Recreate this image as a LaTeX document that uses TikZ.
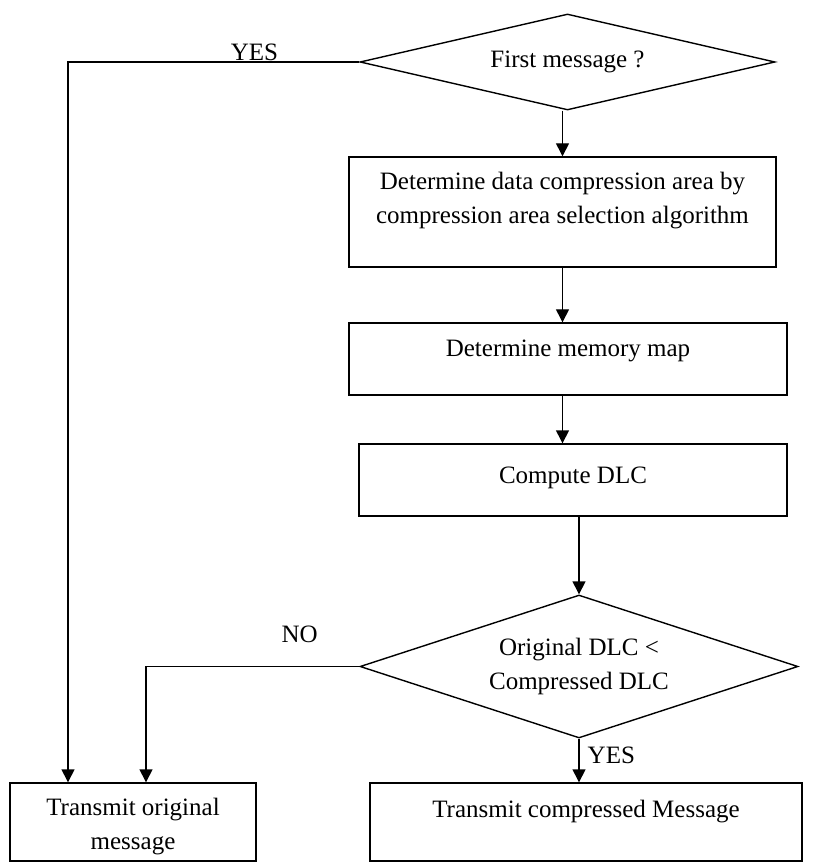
\documentclass[tikz,border=0pt]{standalone}
\usepackage{fontspec}
\setmainfont{Liberation Serif}
\usetikzlibrary{shapes.geometric,arrows.meta}

\begin{document}
\begin{tikzpicture}[x=0.5pt,y=-0.5pt,line width=0.7pt,
  >={Triangle[length=6.5pt,width=6.5pt]},
  font=\fontsize{12.5pt}{17pt}\selectfont,
  test node/.style={diamond,draw,aspect=4.3,inner sep=0pt,align=center},
  step node/.style={rectangle,draw,inner sep=0pt,align=center},
  answer/.style={inner sep=0pt}]
  \useasboundingbox (0,0) rectangle (812,865);
  \node[test node,minimum width=207.5pt,minimum height=48pt] (1) at (567.5,62) {First message ?};
  \node[step node,minimum width=213.5pt,text height=33.5pt,text depth=21.5pt] (2) at (562.5,212)
    {Determine data compression area by\\compression area selection algorithm};
  \node[step node,minimum width=219pt,text height=17pt,text depth=19pt] (3) at (568,359) {Determine memory map};
  \node[step node,minimum width=214pt,text height=19.5pt,text depth=16.5pt] (4) at (573,480) {Compute DLC};
  \node[test node,aspect=3.06,minimum width=219pt,minimum height=71.5pt] (5) at (579,666.5)
    {Original DLC <\\Compressed DLC};
  \node[step node,minimum width=123pt,text height=33pt,text depth=6pt] (6) at (133,822)
    {Transmit original\\message};
  \node[step node,minimum width=216pt,text height=17pt,text depth=22pt] (7) at (586,822)
    {Transmit compressed Message};
  \draw[->] (2.north |- 1.south) -- (2.north);
  \draw[->] (2.south) -- (2.south |- 3.north);
  \draw[->] (2.south |- 3.south) -- (2.south |- 4.north);
  \draw[->] (5.north |- 4.south) -- (5.north);
  \draw[->] (5.south) -- node[answer,right=4pt,pos=0.38] (yes2) {YES} (5.south |- 7.north);
  \draw[->] (1.west) -| node[answer,above=0.5pt,pos=0.18] (yes1) {YES} ([xshift=-32.5pt]6.north);
  \draw[->] (5.west) -| node[answer,above=11.5pt,pos=0.14] (no) {NO} ([xshift=6.5pt]6.north);
\end{tikzpicture}
\end{document}
